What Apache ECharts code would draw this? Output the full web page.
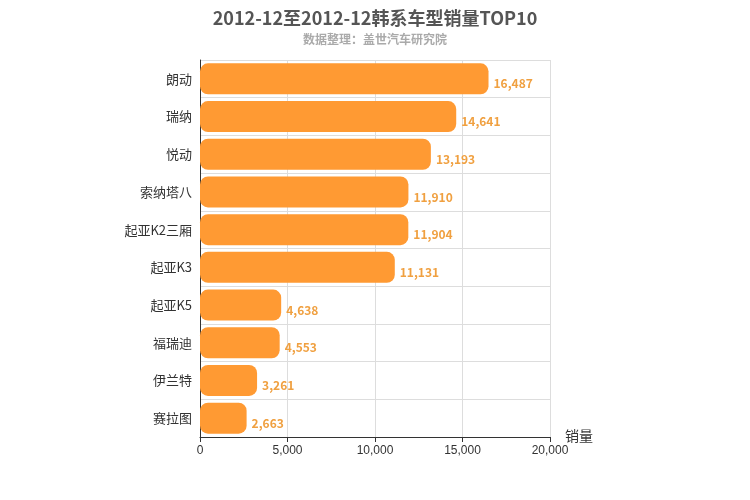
<!DOCTYPE html>
<html><head><meta charset="utf-8">
<script src="https://cdn.jsdelivr.net/npm/echarts@6/dist/echarts.min.js"></script>
<style>html,body{margin:0;padding:0}#c{width:750px;height:500px}</style>
</head><body><div id="c"></div>
<script>
const categories = ['朗动','瑞纳','悦动','索纳塔八','起亚K2三厢','起亚K3','起亚K5','福瑞迪','伊兰特','赛拉图'];
const sales = [16487,14641,13193,11910,11904,11131,4638,4553,3261,2663];
const chart = echarts.init(document.getElementById('c'));
const font = '"Microsoft YaHei","Noto Sans CJK SC",sans-serif';
chart.setOption({
  animation:false,
  title:{text:'2012-12至2012-12韩系车型销量TOP10',subtext:'数据整理：盖世汽车研究院',left:'center',top:4,
    textStyle:{fontSize:18,fontWeight:'bold',color:'#555',fontFamily:font},
    subtextStyle:{fontSize:12,color:'#aaa',fontWeight:'bold',fontFamily:font},itemGap:6},
  grid:{left:200,right:200,top:60,bottom:63},
  xAxis:{type:'value',min:0,max:20000,interval:5000,name:'销量',nameGap:15,
    nameTextStyle:{fontSize:14,color:'#333',fontFamily:font,verticalAlign:'top',padding:[-8,0,0,0]},
    axisLine:{show:true,lineStyle:{color:'#333'}},axisTick:{show:true},
    axisLabel:{color:'#333',fontSize:12},splitLine:{lineStyle:{color:'#ddd'}}},
  yAxis:{type:'category',inverse:true,data:categories,
    axisLine:{lineStyle:{color:'#333'}},axisTick:{show:false},
    axisLabel:{color:'#333',fontSize:13,fontFamily:font},splitLine:{show:true,lineStyle:{color:'#ddd'}}},
  series:[{type:'bar',data:sales,barWidth:31,
    itemStyle:{color:'#ff9a33',borderRadius:8},
    label:{show:true,position:'right',offset:[0,5],formatter:p=>p.value.toLocaleString('en-US'),
      color:'#f0a040',fontWeight:'bold',fontSize:12,fontFamily:font}}]
});
</script></body></html>
